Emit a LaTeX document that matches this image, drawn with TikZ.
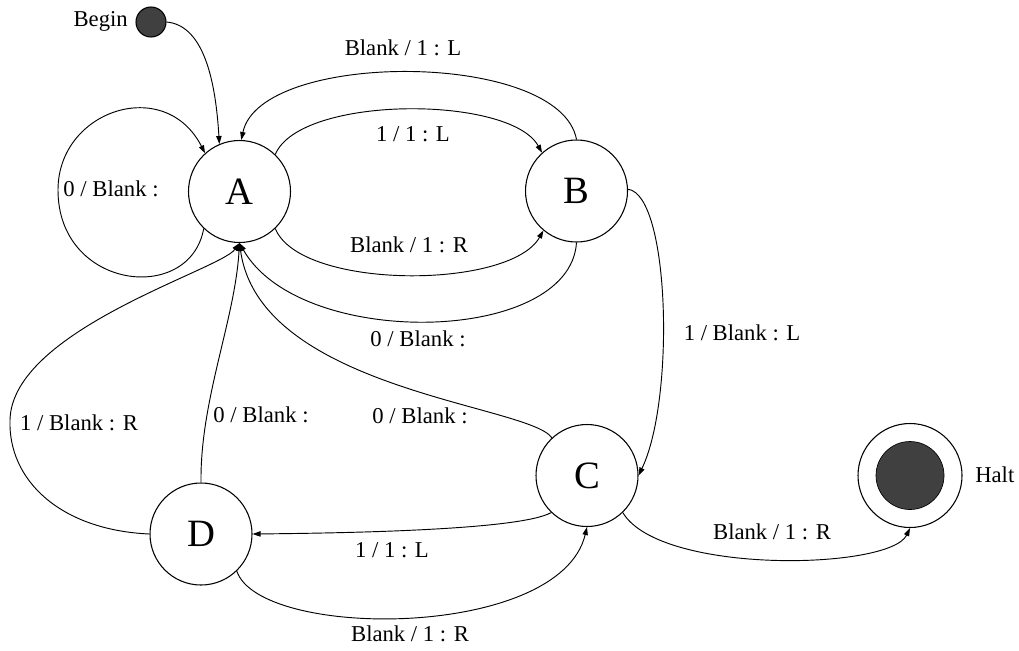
\documentclass[tikz,border=0pt]{standalone}
\usepackage{fontspec}
\setmainfont{Liberation Serif}
\usetikzlibrary{arrows.meta}
\begin{document}
\begin{tikzpicture}[x=0.75pt,y=-0.75pt,
  state/.style={draw,circle,line width=0.8pt,minimum size=76.5pt,inner sep=0pt,font=\fontsize{29}{32}\selectfont},
  lbl/.style={font=\fontsize{17}{20}\selectfont,inner sep=0pt},
  edge/.style={draw,line width=0.7pt,-{Triangle[length=6pt,width=4pt]}},
  plainline/.style={draw,line width=0.7pt}]
\useasboundingbox (0,0) rectangle (1019,650);
\definecolor{dot}{HTML}{404040}
% states
\node[state] (A) at (239.5,191.5) {A};
\node[state] (B) at (576.5,191) {B};
\node[state] (C) at (587,475.5) {C};
\node[state] (D) at (201,534) {D};
\node[draw,circle,line width=0.8pt,minimum size=78pt,inner sep=0pt] (halt) at (910,475.5) {};
\node[circle,fill=dot,draw=black,line width=0.5pt,minimum size=51pt,inner sep=0pt] (haltin) at (910,475.5) {};
\node[circle,fill=dot,draw=black,line width=0.8pt,minimum size=22.5pt,inner sep=0pt] (begin) at (151,22) {};
\node[lbl,anchor=east] (tbegin) at (128,21) {Begin};
\node[lbl,anchor=west] (thalt) at (975,475) {Halt};
% edges
\draw[edge] (begin.east) .. controls (200,25) and (215,70) .. (A.113);
\draw[edge] (A.226) .. controls (190,305) and (58,290) .. (58,190)
  .. controls (58,110) and (165,75) .. (A.132);
\draw[edge] (A.46) .. controls (300,95) and (510,95) .. (B.132);
\draw[edge] (B.90) .. controls (560,50) and (260,50) .. (A.88);
\draw[edge] (A.-46) .. controls (300,290) and (510,290) .. (B.230);
\draw[edge] (B.270) .. controls (570,345) and (300,350) .. (A.270);
\draw[edge] (C.133) .. controls (530,405) and (260,390) .. (A.270);
\draw[edge] (D.90) .. controls (200,400) and (235,320) .. (A.270);
\draw[edge] (D.180) .. controls (60,530) and (8,480) .. (10,420)
  .. controls (12,330) and (220,270) .. (A.270);
\draw[edge] (B.2) .. controls (670,195) and (675,400) .. (C.0);
\draw[edge] (C.226) .. controls (520,530) and (350,533) .. (D.0);
\draw[edge] (D.-46) .. controls (260,640) and (560,640) .. (C.270);
\draw[edge] (C.-46) .. controls (660,575) and (890,570) .. (halt.270);
% labels
\node[lbl] (l1) at (111,189) {0 / Blank :};
\node[lbl] (l2) at (403,48) {Blank / 1 : L};
\node[lbl] (l3) at (413,134) {1 / 1 : L};
\node[lbl] (l4) at (409,245) {Blank / 1 : R};
\node[lbl] (l5) at (418,339) {0 / Blank :};
\node[lbl] (l6) at (742,333) {1 / Blank : L};
\node[lbl] (l7) at (79,423) {1 / Blank : R};
\node[lbl] (l8) at (261,415) {0 / Blank :};
\node[lbl] (l9) at (420,416) {0 / Blank :};
\node[lbl] (l10) at (392,550) {1 / 1 : L};
\node[lbl] (l11) at (410,634) {Blank / 1 : R};
\node[lbl] (l12) at (772,532) {Blank / 1 : R};
\end{tikzpicture}
\end{document}
